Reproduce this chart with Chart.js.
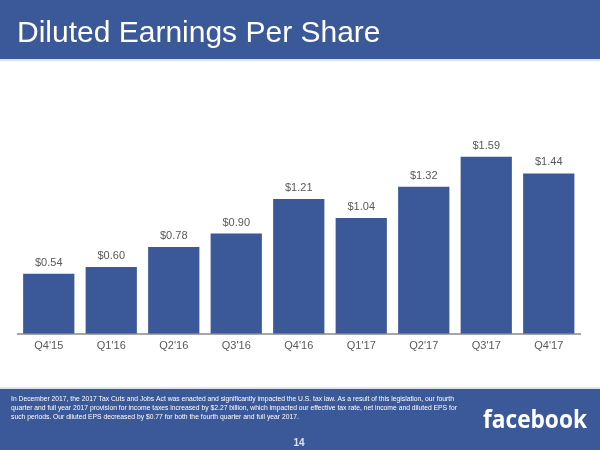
<!DOCTYPE html>
<html><head><meta charset="utf-8">
<script src="https://cdn.jsdelivr.net/npm/chart.js@4.4.1/dist/chart.umd.min.js"></script>
<style>html,body{margin:0;padding:0;background:#fff}#wrap{width:600px;height:450px}</style>
</head><body><div id="wrap"><canvas id="c" width="600" height="450"></canvas></div>
<script>
const categories = ["Q4'15","Q1'16","Q2'16","Q3'16","Q4'16","Q1'17","Q2'17","Q3'17","Q4'17"];
const eps = [0.54,0.60,0.78,0.90,1.21,1.04,1.32,1.59,1.44];
const titleText = "Diluted Earnings Per Share";
const footnoteLines = [
 "In December 2017, the 2017 Tax Cuts and Jobs Act was enacted and significantly impacted the U.S. tax law. As a result of this legislation, our fourth",
 "quarter and full year 2017 provision for income taxes increased by $2.27 billion, which impacted our effective tax rate, net income and diluted EPS for",
 "such periods. Our diluted EPS decreased by $0.77 for both the fourth quarter and full year 2017."
];
const pageNumber = "14";
const BLUE = '#3b5998';

function fitText(ctx, text, x, y, width){
  const w = ctx.measureText(text).width;
  ctx.save();
  ctx.translate(x,y);
  ctx.scale(width/w,1);
  ctx.fillText(text,0,0);
  ctx.restore();
}

const frame = {
  id:'frame',
  beforeDraw(chart){
    const ctx = chart.ctx;
    ctx.save();
    ctx.fillStyle='#fff'; ctx.fillRect(0,0,600,450);
    ctx.fillStyle=BLUE; ctx.fillRect(0,0,600,59);
    ctx.fillStyle='#dfe3ee'; ctx.fillRect(0,59,600,2);
    ctx.fillStyle='#dfe3ee'; ctx.fillRect(0,387,600,2);
    ctx.fillStyle=BLUE; ctx.fillRect(0,389,600,61);
    ctx.fillStyle='#fff';
    ctx.font='30px "Liberation Sans", Arial, sans-serif';
    ctx.textBaseline='alphabetic'; ctx.textAlign='left';
    ctx.fillText(titleText,17,42);
    ctx.font='7px "Liberation Sans", Arial, sans-serif';
    ctx.textBaseline='middle';
    const s = 443/ctx.measureText(footnoteLines[0]).width;
    footnoteLines.forEach((l,i)=>{
      const w = ctx.measureText(l).width*s;
      fitText(ctx,l,11,399.5+i*9,w);
    });
    ctx.textBaseline='alphabetic';
    ctx.font='bold 25px "Open Sans", Lato, sans-serif';
    fitText(ctx,'facebook',483,428,104);
    ctx.font='bold 10px "Liberation Sans", Arial, sans-serif';
    ctx.textAlign='center'; ctx.fillStyle='#dfe3ee';
    ctx.textBaseline='middle';
    ctx.fillText(pageNumber,299,443);
    ctx.restore();
  },
  afterDatasetsDraw(chart){
    const ctx=chart.ctx;
    const meta=chart.getDatasetMeta(0);
    ctx.save();
    ctx.fillStyle='#595959';
    ctx.font='11px "Liberation Sans", Arial, sans-serif';
    ctx.textAlign='center'; ctx.textBaseline='middle';
    meta.data.forEach((bar,i)=>{
      ctx.fillText('$'+eps[i].toFixed(2), bar.x, bar.y-11);
    });
    ctx.restore();
  }
};

new Chart(document.getElementById('c'),{
  type:'bar',
  data:{labels:categories,datasets:[{data:eps,backgroundColor:BLUE,borderWidth:0,barPercentage:0.82,categoryPercentage:1}]},
  options:{
    responsive:false,animation:false,
    layout:{padding:{left:17.5,right:20,top:111,bottom:91}},
    plugins:{legend:{display:false},tooltip:{enabled:false},title:{display:false}},
    scales:{
      x:{grid:{display:false,drawTicks:false},border:{display:true,color:'#a6a6a6',width:2},
         ticks:{color:'#595959',padding:6,font:{family:'"Liberation Sans", Arial, sans-serif',size:11}}},
      y:{display:false,min:0,max:2.0}
    }
  },
  plugins:[frame]
});
</script></body></html>
